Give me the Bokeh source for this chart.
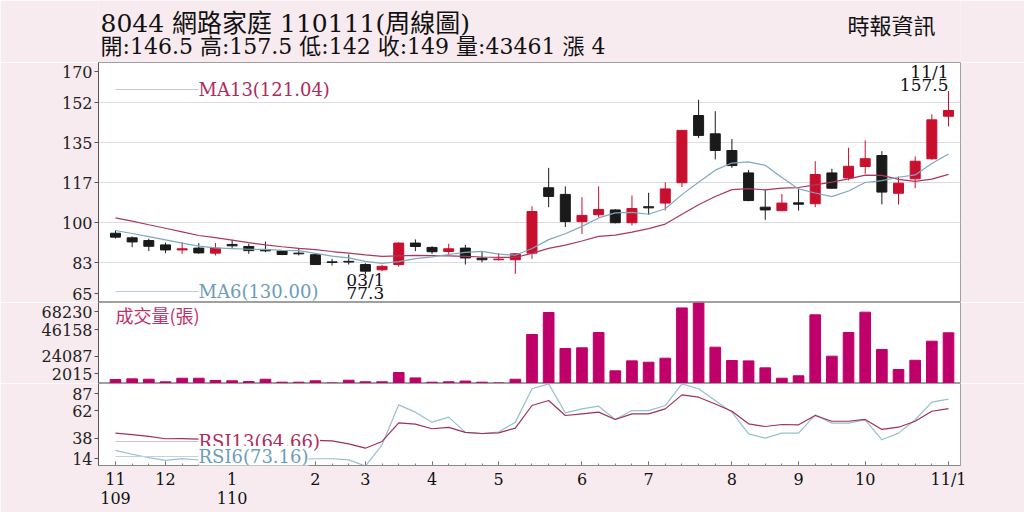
from bokeh.plotting import figure
from bokeh.layouts import column
from bokeh.models import Range1d, FixedTicker, Label, Arrow, ColumnDataSource
from bokeh.embed import file_html
from bokeh.resources import INLINE

# ---------------- data ----------------
weeks = list(range(51))
opens = [95.3, 93.3, 92.1, 90.2, 88.0, 88.8, 86.6, 90.4, 89.5, 88.2, 87.5, 86.6, 85.9, 82.8, 83.0, 81.6, 79.3,
         81.6, 91.0, 89.1, 87.3, 88.8, 84.4, 83.7, 83.7, 86.6, 115.2, 112.3, 100.4, 103.4, 105.5, 99.9, 106.9,
         108.5, 117.4, 146.8, 138.8, 131.5, 121.7, 106.7, 105.2, 108.6, 108.2, 121.7, 119.5, 124.5, 129.3,
         112.8, 119.1, 127.9, 146.5]
highs = [96.5, 93.9, 92.9, 91.2, 91.4, 91.0, 91.0, 92.4, 90.7, 91.7, 87.8, 88.9, 86.6, 84.1, 86.0, 82.2, 81.5,
         91.4, 92.6, 89.6, 90.7, 90.2, 87.5, 86.6, 86.6, 107.1, 123.9, 115.8, 111.1, 115.8, 105.8, 111.8, 113.0,
         117.6, 140.5, 153.7, 148.7, 136.5, 123.0, 114.3, 112.5, 114.7, 126.8, 123.5, 132.7, 135.9, 131.2,
         120.1, 128.9, 147.3, 157.5]
lows = [93.0, 89.2, 87.5, 86.6, 86.3, 86.3, 85.6, 88.9, 86.3, 87.0, 85.7, 85.6, 81.5, 81.2, 81.6, 77.3, 78.7,
        80.7, 87.5, 86.3, 85.9, 81.6, 82.6, 83.4, 77.5, 84.1, 106.7, 98.0, 95.0, 102.3, 99.6, 98.7, 103.4,
        105.3, 115.5, 137.0, 127.6, 123.9, 109.3, 101.2, 105.0, 105.2, 106.7, 114.7, 118.4, 121.3, 107.9,
        107.9, 115.0, 127.4, 142.0]
closes = [93.6, 91.5, 89.6, 88.0, 88.5, 86.7, 88.8, 89.8, 87.7, 87.6, 86.0, 86.3, 81.6, 82.5, 82.7, 78.7, 80.8,
          91.0, 89.5, 87.2, 88.5, 84.5, 83.7, 84.0, 86.3, 104.8, 111.4, 100.4, 103.1, 105.7, 99.9, 106.1, 106.4,
          114.7, 140.3, 138.1, 131.5, 124.9, 109.6, 105.5, 108.5, 108.0, 121.0, 115.0, 124.6, 127.9, 113.3,
          117.2, 126.8, 144.9, 149.0]
ma6 = [96.5, 95.2, 93.8, 92.4, 91.0, 89.7, 88.9, 88.6, 88.3, 88.2, 87.8, 87.7, 86.5, 85.3, 84.5, 83.0, 82.1,
       82.9, 84.2, 85.0, 86.0, 86.9, 87.4, 86.2, 85.7, 88.6, 92.5, 95.1, 98.3, 102.0, 104.2, 104.4, 103.6,
       106.0, 112.2, 117.6, 122.9, 126.0, 126.5, 125.0, 119.7, 114.7, 112.9, 111.3, 113.8, 117.5, 118.3,
       119.8, 120.8, 125.8, 130.0]
ma13 = [102.0, 100.6, 99.0, 97.5, 95.9, 94.3, 93.4, 92.3, 91.2, 90.2, 89.4, 88.7, 88.1, 87.3, 86.6, 85.8, 85.2,
        85.4, 85.6, 85.5, 85.4, 85.2, 84.9, 84.7, 84.7, 86.5, 88.7, 90.1, 91.9, 93.9, 94.5, 95.8, 97.3,
        99.3, 103.6, 107.8, 111.4, 114.4, 114.8, 114.3, 115.0, 115.3, 116.5, 117.7, 119.1, 120.7, 120.6,
        118.9, 118.0, 119.0, 121.04]
volume = [5300, 5800, 5500, 3400, 6300, 6300, 4500, 4200, 3600, 5500, 3100, 3100, 4200, 2500, 4700, 3400, 3400,
          11000, 6600, 3100, 3400, 4000, 3100, 2500, 5500, 42070, 60060, 30630, 31170, 43710, 12370, 20520,
          19430, 22700, 63800, 67900, 31700, 20800, 20500, 14800, 6350, 8300, 58150, 24340, 43710, 60330,
          29800, 13460, 21000, 36600, 43461]
rsi13 = [42.8, 41.5, 40.0, 37.8, 38.0, 37.4, 37.5, 37.5, 37.2, 37.0, 36.8, 36.6, 36.3, 35.9, 33.3, 29.4, 35.4,
         52.0, 50.8, 46.7, 48.0, 43.5, 42.5, 43.1, 47.3, 67.4, 71.9, 58.5, 60.0, 61.5, 55.0, 60.0, 60.0,
         64.4, 76.9, 74.8, 68.8, 62.3, 51.1, 48.7, 50.5, 50.2, 58.5, 53.4, 53.4, 55.0, 46.1, 48.1, 53.4,
         62.3, 64.66]
rsi6 = [27.4, 24.0, 21.0, 18.5, 20.2, 18.9, 19.5, 20.0, 19.5, 19.5, 19.0, 19.5, 20.0, 20.0, 19.0, 13.5, 32.4,
        68.0, 61.5, 52.6, 57.1, 43.5, 42.3, 43.8, 52.6, 82.3, 86.7, 60.9, 64.4, 66.8, 55.0, 62.9, 62.9,
        67.4, 86.7, 82.3, 71.9, 61.5, 42.2, 38.4, 42.8, 42.8, 59.1, 51.7, 51.7, 54.7, 36.9, 42.8, 54.7,
        70.4, 73.16]

month_tick_idx = [0, 3, 7, 12, 15, 19, 23, 28, 32, 37, 41, 45, 50]
month_labels = ["11\n109", "12", "1\n110", "2", "3", "4", "5", "6", "7", "8", "9", "10", "11/1"]
price_ticks = [65, 82.5, 100, 117.5, 135, 152.5, 170]
price_tick_labels = ["65", "83", "100", "117", "135", "152", "170"]
vol_ticks = [2015, 24087, 46158, 68230]
vol_tick_labels = ["2015", "24087", "46158", "68230"]
rsi_ticks = [14, 38.33, 62.67, 87]
rsi_tick_labels = ["14", "38", "62", "87"]

title_line1 = "8044  網路家庭 110111(周線圖)"
title_line2 = "開:146.5 高:157.5 低:142 收:149 量:43461 漲 4"
source_text = "時報資訊"
ma13_label = "MA13(121.04)"
ma6_label = "MA6(130.00)"
vol_label = "成交量(張)"
rsi13_label = "RSI13(64.66)"
rsi6_label = "RSI6(73.16)"
high_date_label = "11/1"
low_date_label = "03/1"

# ---------------- style ----------------
PINK = "#f8ebef"
RED = "#c8102e"
BLACK = "#1a1a1a"
VOLC = "#c0006a"
MA13C = "#a8385f"
MA6C = "#7fa8c0"
T13 = "#b02a5e"
T6 = "#6c9cbc"
SERIF = "DejaVu Serif"
MIXED = "DejaVu Serif, Noto Sans CJK TC"
CJK = "Noto Sans CJK TC"

W = 1024
LEFT = 98
RIGHT = 64
xr = Range1d(-1.02, 50.72)


def style_y(p, ticks, labels, nudge_top, nudge_bottom):
    t = list(ticks)
    t[0] = t[0] + nudge_bottom
    t[-1] = t[-1] - nudge_top
    p.yaxis.ticker = FixedTicker(ticks=t)
    p.yaxis.major_label_overrides = {v: s for v, s in zip(t, labels)}
    p.yaxis.major_label_text_font = SERIF
    p.yaxis.major_label_text_font_size = "16px"
    p.yaxis.major_label_text_color = "#222222"
    p.yaxis.major_label_standoff = 2
    p.yaxis.major_tick_out = 4
    p.yaxis.major_tick_in = 0
    p.yaxis.minor_tick_line_color = None
    p.yaxis.axis_line_color = "#555555"
    p.yaxis.major_tick_line_color = "#555555"


def base_fig(h, yr, bottom, xloc=None):
    p = figure(width=W, height=h, x_range=xr, y_range=yr, output_backend="svg",
               toolbar_location=None, x_axis_location=xloc,
               min_border_left=LEFT, min_border_right=RIGHT,
               min_border_top=0, min_border_bottom=bottom,
               background_fill_color="white", border_fill_color=PINK,
               outline_line_color="#a0a0a0")
    p.xgrid.visible = False
    p.ygrid.visible = False
    return p


# ---------------- header (frame aligned with the panels below) ----------------
ph = figure(width=W, height=62, x_range=Range1d(0, 1), y_range=Range1d(0, 1),
            output_backend="svg", toolbar_location=None, x_axis_location=None,
            y_axis_location=None, min_border_left=LEFT, min_border_right=RIGHT, min_border_top=0,
            min_border_bottom=0, background_fill_color=PINK, border_fill_color=PINK,
            outline_line_color=None)
ph.xgrid.visible = False
ph.ygrid.visible = False
ph.add_layout(Label(x=2, y=39, x_units="screen", y_units="screen", text=title_line1,
                    text_font=MIXED, text_font_size="25px", text_color="#111111",
                    text_baseline="middle"))
ph.add_layout(Label(x=2, y=16, x_units="screen", y_units="screen", text=title_line2,
                    text_font=MIXED, text_font_size="22px", text_color="#111111",
                    text_baseline="middle"))
ph.add_layout(Label(x=837, y=39, x_units="screen", y_units="screen", text=source_text,
                    text_font=CJK, text_font_size="22px", text_color="#111111",
                    text_baseline="middle", text_align="right"))

# ---------------- price panel ----------------
pa = base_fig(240, Range1d(price_ticks[0], price_ticks[-1]), 0)
pu = (price_ticks[-1] - price_ticks[0]) / 240
style_y(pa, price_ticks, price_tick_labels, 9 * pu, 9 * pu)
pa.ygrid.visible = True
pa.ygrid.ticker = FixedTicker(ticks=price_ticks[1:-1])
pa.ygrid.grid_line_color = "#dcdcdc"

up = {k: [] for k in ["x", "top", "bot", "hi", "lo"]}
dn = {k: [] for k in ["x", "top", "bot", "hi", "lo"]}
for i, o, h, l, c in zip(weeks, opens, highs, lows, closes):
    d = up if c >= o else dn
    d["x"].append(i)
    d["top"].append(max(o, c))
    d["bot"].append(min(o, c))
    d["hi"].append(h)
    d["lo"].append(l)

for d, col in ((up, RED), (dn, BLACK)):
    src = ColumnDataSource(d)
    pa.segment(x0="x", y0="lo", x1="x", y1="hi", source=src, line_color=col, line_width=1)
    pa.vbar(x="x", top="top", bottom="bot", width=0.6, source=src,
            fill_color=col, line_color=col, line_width=1)

pa.line(weeks, ma13, line_color=MA13C, line_width=1.2)
pa.line(weeks, ma6, line_color=MA6C, line_width=1.2)

pa.add_layout(Arrow(x_start=17, y_start=213, x_end=100, y_end=213, start_units="screen",
                    end_units="screen", start=None, end=None, line_color="#c9c9c9", line_width=1))
pa.add_layout(Label(x=100, y=213, x_units="screen", y_units="screen", text=ma13_label,
                    text_font=SERIF, text_font_size="18px", text_color=T13, text_baseline="middle"))
pa.add_layout(Arrow(x_start=17, y_start=11, x_end=100, y_end=11, start_units="screen",
                    end_units="screen", start=None, end=None, line_color="#b8cdd8", line_width=1))
pa.add_layout(Label(x=100, y=11, x_units="screen", y_units="screen", text=ma6_label,
                    text_font=SERIF, text_font_size="18px", text_color=T6, text_baseline="middle"))

hi_i = highs.index(max(highs))
lo_i = lows.index(min(lows))
for txt, off in ((high_date_label, 19), (f"{highs[hi_i]:g}", 6)):
    pa.add_layout(Label(x=hi_i, y=highs[hi_i], y_offset=off, text=txt, text_align="right",
                        text_baseline="middle", text_font=SERIF, text_font_size="17px",
                        text_color="#111111"))
for txt, off in ((low_date_label, -6), (f"{lows[lo_i]:g}", -19)):
    pa.add_layout(Label(x=lo_i, y=lows[lo_i], y_offset=off, text=txt, text_align="center",
                        text_baseline="middle", text_font=SERIF, text_font_size="17px",
                        text_color="#111111"))

# ---------------- volume panel ----------------
pb = base_fig(81, Range1d(vol_ticks[0], vol_ticks[-1]), 0)
vu = (vol_ticks[-1] - vol_ticks[0]) / 81
style_y(pb, vol_ticks, vol_tick_labels, 9 * vu, 10 * vu)
pb.vbar(x=weeks, top=volume, bottom=0, width=0.64, fill_color=VOLC, line_color=VOLC)
pb.add_layout(Label(x=17, y=69, x_units="screen", y_units="screen", text=vol_label,
                    text_font=CJK, text_font_size="18px", text_color="#c0306a",
                    text_baseline="middle"))

# ---------------- RSI panel ----------------
pc = base_fig(129, Range1d(rsi_ticks[0], rsi_ticks[-1]), 47, xloc="below")
ru = (rsi_ticks[-1] - rsi_ticks[0]) / 82
style_y(pc, rsi_ticks, rsi_tick_labels, 10 * ru, 7 * ru)
pc.line(weeks, rsi6, line_color="#98bfcf", line_width=1.2)
pc.line(weeks, rsi13, line_color="#a0305a", line_width=1.2)
pc.add_layout(Arrow(x_start=17, y_start=24, x_end=100, y_end=24, start_units="screen",
                    end_units="screen", start=None, end=None, line_color="#d0c0c8", line_width=1))
pc.add_layout(Label(x=100, y=24, x_units="screen", y_units="screen", text=rsi13_label,
                    text_font=SERIF, text_font_size="18px", text_color=T13, text_baseline="middle",
                    background_fill_color="white"))
pc.add_layout(Arrow(x_start=17, y_start=9, x_end=100, y_end=9, start_units="screen",
                    end_units="screen", start=None, end=None, line_color="#c0d2dc", line_width=1))
pc.add_layout(Label(x=100, y=9, x_units="screen", y_units="screen", text=rsi6_label,
                    text_font=SERIF, text_font_size="18px", text_color=T6, text_baseline="middle",
                    background_fill_color="white"))

pc.xaxis.ticker = FixedTicker(ticks=month_tick_idx, minor_ticks=weeks)
pc.xaxis.major_label_overrides = {i: s for i, s in zip(month_tick_idx, month_labels)}
pc.xaxis.major_label_text_font = SERIF
pc.xaxis.major_label_text_font_size = "16px"
pc.xaxis.major_label_text_color = "#111111"
pc.xaxis.major_label_text_line_height = 1.0
pc.xaxis.major_label_standoff = 4
pc.xaxis.major_tick_in = 4
pc.xaxis.major_tick_out = 0
pc.xaxis.minor_tick_in = 2
pc.xaxis.minor_tick_out = 0
pc.xaxis.axis_line_color = "#888888"
pc.xaxis.major_tick_line_color = "#666666"
pc.xaxis.minor_tick_line_color = "#888888"

layout = column(ph, pa, pb, pc)
open("out.html", "w").write(file_html(layout, INLINE))
